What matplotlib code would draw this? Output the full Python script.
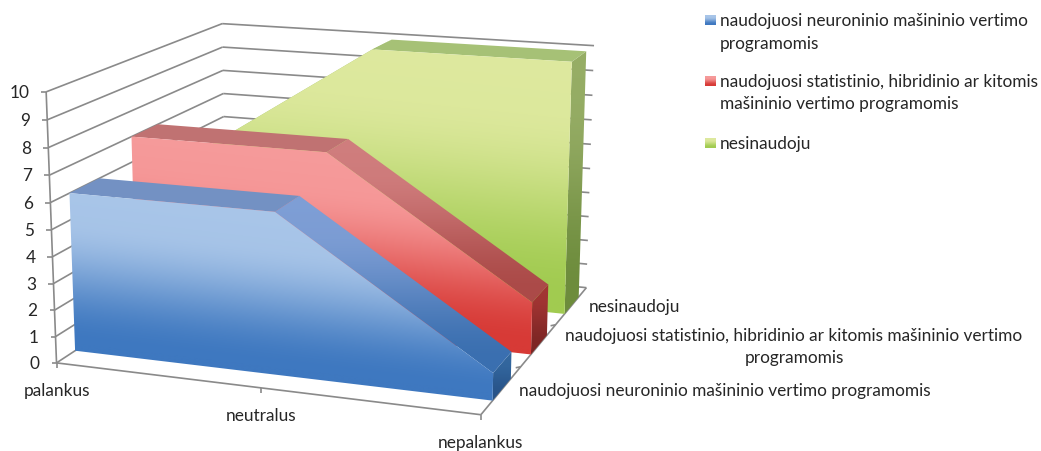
import numpy as np
import matplotlib
matplotlib.use("Agg")
import matplotlib.pyplot as plt
from matplotlib.colors import to_rgb
from matplotlib.patches import Polygon

plt.rcParams['font.family'] = ['Lato', 'DejaVu Sans']

categories = ["palankus", "neutralus", "nepalankus"]
series_names = [
    "naudojuosi neuroninio mašininio vertimo programomis",
    "naudojuosi statistinio, hibridinio ar kitomis mašininio vertimo programomis",
    "nesinaudoju",
]
neural_values = [6, 6, 1]
statistical_values = [7, 7, 2]
none_values = [5, 10, 10]
value_ticks = list(range(0, 11))

FRONT, BACK = 0.28, 0.74

# camera calibration: (category, depth, value) -> picture pixel
calib_3d = [(0, 0, 0), (0, 0, 10), (0, 3, 10), (0, 3, 9), (2, 3, 10), (2, 3, 9), (2, 3, 0),
            (2, 3, 3), (2, 0, 0), (1, 0, 0), (2, 1, 0), (2, 2, 0),
            (0, FRONT, 0), (2, FRONT, 0), (0, FRONT, 6), (1, FRONT, 6), (2, 1 + FRONT, 0), (0, 1 + FRONT, 7),
            (1, 1 + FRONT, 7), (1, 2 + FRONT, 10), (2, 2 + FRONT, 10),
            (2, BACK, 0), (0, BACK, 6), (2, 1 + BACK, 2), (0, 1 + BACK, 7), (1, 2 + BACK, 10), (2, 2 + BACK, 10)]
calib_px = [(56, 362), (45.5, 91), (222, 23.5), (222, 46.8), (594, 45), (593.7, 70.7), (587, 287),
            (588.5, 216.7), (480, 416), (260, 389), (522.7, 366.7), (558, 324),
            (76, 350), (493, 400), (71, 193), (276.7, 211), (530.7, 353), (133, 136),
            (328, 151), (375, 49), (572, 61),
            (508, 380), (96.7, 180), (545.7, 286), (157, 126), (390, 41), (585, 52)]


def fit_camera(pts3d, pts2d):
    rows, rhs = [], []
    for (x, y, z), (u, v) in zip(pts3d, pts2d):
        rows.append([x, y, z, 1, 0, 0, 0, 0, -u * x, -u * y, -u * z])
        rows.append([0, 0, 0, 0, x, y, z, 1, -v * x, -v * y, -v * z])
        rhs += [u, v]
    sol = np.linalg.lstsq(np.array(rows, float), np.array(rhs, float), rcond=None)[0]
    return np.append(sol, 1.0).reshape(3, 4)


CAM = fit_camera(calib_3d, calib_px)


def proj(x, y, z):
    p = CAM @ np.array([x, y, z, 1.0])
    return p[0] / p[2], p[1] / p[2]


fig = plt.figure(figsize=(10.41, 4.51), dpi=100)
ax = fig.add_axes([0, 0, 1, 1])

W, H = 1041, 451
GRID = "#8a8a8a"
TXT = "#262626"
FS = 12.4
zo = [10]


def gradient_poly(verts, top, mid, bottom, slope=0.0):
    """Fill a polygon with a gradient running from bottom to top."""
    verts = np.array(verts)
    x0, x1 = np.floor(verts[:, 0].min()) - 1, np.ceil(verts[:, 0].max()) + 1
    y0, y1 = np.floor(verts[:, 1].min()) - 1, np.ceil(verts[:, 1].max()) + 1
    xx, yy = np.meshgrid(np.arange(x0, x1 + 1), np.arange(y0, y1 + 1))
    vv = verts[:, 1] - slope * verts[:, 0]
    t = np.clip((yy - slope * xx - vv.min()) / max(vv.max() - vv.min(), 1e-6), 0, 1)
    # smooth the lower part so there is no visible knee in the ramp
    low = np.clip((t - 0.2) / 0.75, 0, 1)
    low = low * low * (3 - 2 * low)
    c_top, c_mid, c_bot = np.array(to_rgb(top)), np.array(to_rgb(mid)), np.array(to_rgb(bottom))
    img = (c_top + (c_mid - c_top) * t[..., None]) * (1 - low[..., None]) + c_bot * low[..., None]
    zo[0] += 1
    im = ax.imshow(img, extent=(x0, x1, y1, y0), aspect='auto', interpolation='bilinear', zorder=zo[0])
    im.set_clip_path(Polygon(verts, closed=True, transform=ax.transData))


def draw_line(p, q, lw=1.2, color=GRID):
    ax.plot([p[0], q[0]], [p[1], q[1]], color=color, lw=lw, solid_capstyle='butt', zorder=2)


# walls
for v in value_ticks:
    draw_line(proj(0, 0, v), proj(0, 3, v))
    draw_line(proj(0, 3, v), proj(2, 3, v))
    fl = proj(0, 0, v)
    draw_line(fl, (fl[0] - 5, fl[1]))
    ax.text(fl[0] - 17, fl[1] + 1, str(v), ha='right', va='center', fontsize=FS, color=TXT)
draw_line(proj(0, 0, 0), proj(0, 0, 10))
draw_line(proj(0, 0, 0), proj(2, 0, 0))
draw_line(proj(2, 0, 0), proj(2, 3, 0))

# category ticks and labels
for i, name in enumerate(categories):
    p = proj(i, 0, 0)
    draw_line(p, (p[0], p[1] + 5))
    ax.text(p[0], p[1] + 28, name, ha='center', va='center', fontsize=FS, color=TXT)

# depth ticks
for d in (1, 2):
    p = proj(2, d, 0)
    draw_line(p, (p[0] - 5, p[1] + 1))

styles = [
    dict(front=("#a9c6e9", "#9dbce3", "#3e78c0"), top="#7391c3", slant=("#7f9fd6", "#7194cc", "#3a6fb0"),
         side=("#34689f", "#2f6199", "#285388")),
    dict(front=("#f69b9b", "#f48c8c", "#d73a36"), top="#c07272", slant=("#d07e7e", "#c97272", "#ab4a48"),
         side=("#a33634", "#962e2d", "#7c2624")),
    dict(front=("#dee99f", "#d6e592", "#a1cb50"), top="#a6c176", slant=("#a6c176", "#a6c176", "#a6c176"),
         side=("#97ae66", "#8ca45c", "#6d8c3c")),
]
all_values = [neural_values, statistical_values, none_values]

# back to front
for s in (2, 1, 0):
    vals = all_values[s]
    st = styles[s]
    yf, yb = s + FRONT, s + BACK
    # side at the last category
    gradient_poly([proj(2, yf, 0), proj(2, yb, 0), proj(2, yb, vals[2]), proj(2, yf, vals[2])], *st['side'])
    # upper faces, right one first
    for i in (1, 0):
        quad = [proj(i, yf, vals[i]), proj(i, yb, vals[i]), proj(i + 1, yb, vals[i + 1]), proj(i + 1, yf, vals[i + 1])]
        if vals[i] == vals[i + 1]:
            zo[0] += 1
            ax.add_patch(Polygon(quad, closed=True, fc=st['top'], ec='none', zorder=zo[0]))
        else:
            gradient_poly(quad, *st['slant'])
    # front face
    outline = [proj(0, yf, 0)] + [proj(i, yf, vals[i]) for i in range(3)] + [proj(2, yf, 0)]
    a, b = proj(0, yf, 0), proj(2, yf, 0)
    gradient_poly(outline, *st['front'], slope=(b[1] - a[1]) / (b[0] - a[0]))

# depth labels
ax.text(724.5, 391, series_names[0], ha='center', va='center', fontsize=FS, color=TXT)
ax.text(794, 336, "naudojuosi statistinio, hibridinio ar kitomis mašininio vertimo", ha='center', va='center',
        fontsize=FS, color=TXT)
ax.text(794, 358, "programomis", ha='center', va='center', fontsize=FS, color=TXT)
ax.text(640.5 - 6, 307, series_names[2], ha='center', va='center', fontsize=FS, color=TXT)

# legend
legend_rows = [
    (20, ["naudojuosi neuroninio mašininio vertimo", "programomis"], 0),
    (81, ["naudojuosi statistinio, hibridinio ar kitomis", "mašininio vertimo programomis"], 1),
    (143, ["nesinaudoju"], 2),
]
for y, lines, s in legend_rows:
    gradient_poly([(705, y - 5), (716, y - 5), (716, y + 5), (705, y + 5)], *styles[s]['front'])
    for k, line in enumerate(lines):
        ax.text(720, y + 1 + k * 22.5, line, ha='left', va='center', fontsize=FS, color=TXT)

ax.set_xlim(0, W)
ax.set_ylim(H, 0)
ax.axis('off')
fig.savefig("out.png", dpi=100)
